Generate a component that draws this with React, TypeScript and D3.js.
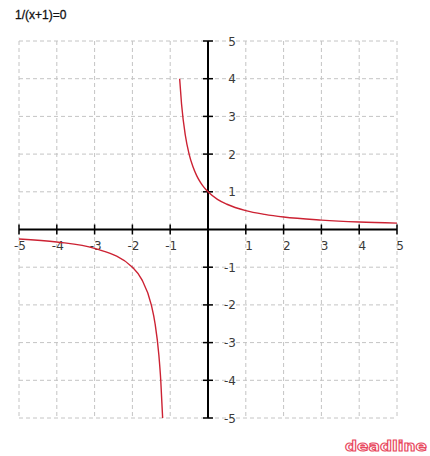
import * as d3 from "d3";

const title = "1/(x+1)=0";
const xTicks = [-5, -4, -3, -2, -1, 0, 1, 2, 3, 4, 5];
const yTicks = [-5, -4, -3, -2, -1, 0, 1, 2, 3, 4, 5];

const leftX = [-5, -4, -3, -2, -1.75, -1.5, -1.4, -1.3, -1.25, -1.2];
const leftY = [-0.25, -0.33, -0.5, -1, -1.33, -2, -2.5, -3.33, -4, -5];
const rightX = [-0.75, -0.7, -0.6, -0.5, -0.4, -0.3, -0.2, -0.1, 0, 0.25, 0.5, 1, 1.5, 2, 3, 4, 5];
const rightY = [4, 3.33, 2.5, 2, 1.67, 1.43, 1.25, 1.11, 1, 0.8, 0.67, 0.5, 0.4, 0.33, 0.25, 0.2, 0.17];

const W = 430;
const H = 456;

export default function App() {
  const x = d3.scaleLinear().domain([-5, 5]).range([19, 397]);
  const y = d3.scaleLinear().domain([-5, 5]).range([418, 41]);

  const line = d3
    .line<[number, number]>()
    .x((d) => x(d[0]))
    .y((d) => y(d[1]))
    .curve(d3.curveMonotoneX);

  const leftPts = leftX.map((v, i) => [v, leftY[i]] as [number, number]);
  const rightPts = rightX.map((v, i) => [v, rightY[i]] as [number, number]);

  const labelFont = { fontFamily: "DejaVu Sans", fontSize: 12, fill: "#3a3a3a" };

  return (
    <svg
      width={W}
      height={H}
      style={{ position: "absolute", left: 0, top: 0, background: "#fff" }}
    >
      <text
        x={15}
        y={19}
        fontFamily="Liberation Sans Narrow, Liberation Sans"
        fontSize={12}
        fill="#111"
        stroke="#111"
        strokeWidth={0.3}
      >
        {title}
      </text>

      {/* dashed grid */}
      <g stroke="#c4c4c4" strokeWidth={1} strokeDasharray="4,3">
        {xTicks.map((t) => (
          <line key={"gx" + t} x1={x(t)} x2={x(t)} y1={y(5)} y2={y(-5)} />
        ))}
        {yTicks.map((t) => (
          <line key={"gy" + t} x1={x(-5)} x2={x(5)} y1={y(t)} y2={y(t)} />
        ))}
      </g>

      {/* axes */}
      <g stroke="#000">
        <line x1={x(-5)} x2={x(5)} y1={y(0)} y2={y(0)} strokeWidth={2} />
        <line x1={x(0)} x2={x(0)} y1={y(5)} y2={y(-5)} strokeWidth={2} />
        {xTicks
          .filter((t) => t !== 0)
          .map((t) => (
            <line key={"tx" + t} x1={x(t)} x2={x(t)} y1={y(0) - 5} y2={y(0) + 5} strokeWidth={1.5} />
          ))}
        {yTicks
          .filter((t) => t !== 0)
          .map((t) => (
            <line key={"ty" + t} x1={x(0) - 5} x2={x(0) + 5} y1={y(t)} y2={y(t)} strokeWidth={1.5} />
          ))}
      </g>

      {xTicks
        .filter((t) => t !== 0)
        .map((t) => (
          <text key={"lx" + t} x={x(t) + 7} y={y(0) + 20} textAnchor="end" {...labelFont}>
            {t}
          </text>
        ))}
      {yTicks
        .filter((t) => t !== 0)
        .map((t) => (
          <text key={"ly" + t} x={x(0) + 28} y={y(t) + 4.5} textAnchor="end" {...labelFont}>
            {t}
          </text>
        ))}

      <path d={line(leftPts) ?? ""} fill="none" stroke="#cc2233" strokeWidth={1.4} />
      <path d={line(rightPts) ?? ""} fill="none" stroke="#cc2233" strokeWidth={1.4} />

      <text
        x={345}
        y={451}
        textLength={82}
        lengthAdjust="spacingAndGlyphs"
        fontFamily="DejaVu Sans"
        fontWeight="bold"
        fontSize={14}
        fill="#fff"
        stroke="#e8485e"
        strokeWidth={1}
      >
        deadline
      </text>
    </svg>
  );
}
